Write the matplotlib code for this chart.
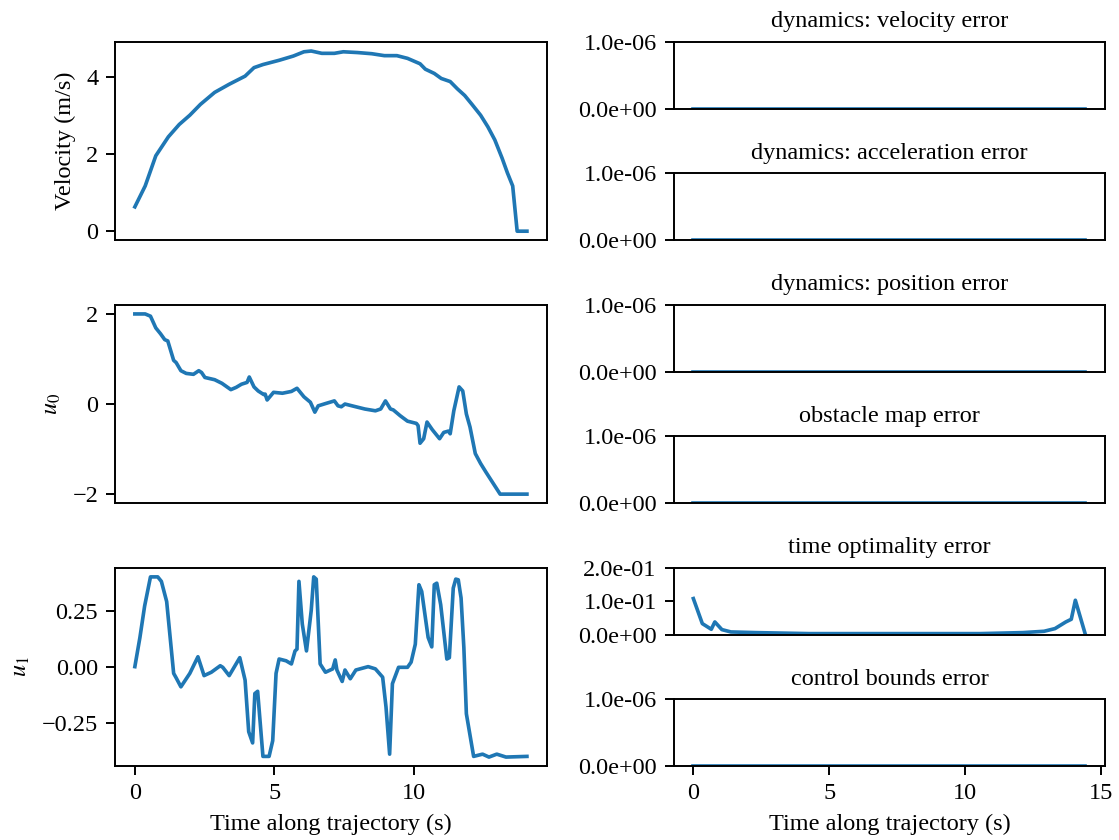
import numpy as np
import matplotlib
matplotlib.use("Agg")
import matplotlib.pyplot as plt
from matplotlib.gridspec import GridSpec
from matplotlib.ticker import FormatStrFormatter

plt.rcParams['font.family'] = ['Liberation Serif', 'DejaVu Serif']
plt.rcParams['mathtext.fontset'] = 'stix'
plt.rcParams['font.size'] = 10
plt.rcParams['axes.titlesize'] = 10

# velocity along the trajectory
t_vel = [0.0, 0.37, 0.75, 1.2, 1.59, 1.97, 2.35, 2.86, 3.38, 3.95, 4.27, 4.59, 5.17, 5.68,
         6.06, 6.32, 6.70, 7.15, 7.47, 7.98, 8.49, 8.94, 9.39, 9.77, 10.22, 10.41, 10.73,
         10.98, 11.30, 11.56, 11.82, 12.07, 12.39, 12.65, 12.90, 13.16, 13.35, 13.54,
         13.70, 14.05]
vel = [0.63, 1.17, 1.95, 2.44, 2.76, 3.0, 3.28, 3.59, 3.80, 4.01, 4.23, 4.31, 4.42, 4.53,
       4.64, 4.66, 4.60, 4.60, 4.64, 4.62, 4.59, 4.54, 4.54, 4.47, 4.33, 4.19, 4.08,
       3.95, 3.87, 3.68, 3.51, 3.29, 3.0, 2.70, 2.36, 1.89, 1.51, 1.17, 0.0, 0.0]

# control u0
t_u0 = [0.0, 0.37, 0.56, 0.75, 0.92, 1.07, 1.18, 1.39, 1.48, 1.65, 1.84, 2.10, 2.29, 2.39,
        2.51, 2.86, 3.12, 3.44, 3.63, 3.82, 4.02, 4.10, 4.27, 4.42, 4.62, 4.67, 4.74, 4.97,
        5.29, 5.61, 5.81, 6.06, 6.29, 6.45, 6.57, 6.83, 7.15, 7.28, 7.40, 7.53, 7.85, 8.24,
        8.62, 8.81, 8.98, 9.16, 9.26, 9.51, 9.77, 10.09, 10.15, 10.22, 10.35, 10.47, 10.66,
        10.92, 11.07, 11.24, 11.30, 11.43, 11.62, 11.75, 11.88, 12.01, 12.20, 12.39, 12.58,
        12.84, 13.09, 14.05]
u0 = [2.0, 2.0, 1.95, 1.69, 1.56, 1.43, 1.40, 0.97, 0.92, 0.74, 0.68, 0.66, 0.74, 0.70,
      0.59, 0.54, 0.46, 0.32, 0.37, 0.44, 0.48, 0.60, 0.38, 0.29, 0.21, 0.22, 0.09, 0.26,
      0.24, 0.28, 0.35, 0.16, 0.04, -0.18, -0.04, 0.01, 0.07, -0.04, -0.06, 0.0, -0.05,
      -0.11, -0.15, -0.11, 0.07, -0.11, -0.13, -0.26, -0.38, -0.43, -0.48, -0.87, -0.77,
      -0.40, -0.57, -0.77, -0.63, -0.60, -0.66, -0.15, 0.38, 0.29, -0.22, -0.51, -1.10,
      -1.32, -1.51, -1.76, -2.0, -2.0]

# control u1
t_u1 = [0.0, 0.18, 0.35, 0.56, 0.82, 0.95, 1.14, 1.39, 1.48, 1.65, 1.97, 2.26, 2.48, 2.74,
        3.06, 3.15, 3.38, 3.76, 3.95, 4.08, 4.22, 4.30, 4.40, 4.59, 4.81, 4.94, 5.06, 5.17,
        5.42, 5.61, 5.74, 5.81, 5.88, 6.0, 6.15, 6.32, 6.41, 6.50, 6.64, 6.83, 7.09, 7.18,
        7.24, 7.43, 7.53, 7.72, 7.92, 8.36, 8.62, 8.88, 9.0, 9.13, 9.23, 9.45, 9.77, 9.90,
        10.05, 10.18, 10.28, 10.51, 10.64, 10.73, 10.82, 10.96, 11.18, 11.27, 11.41, 11.50,
        11.59, 11.69, 11.79, 11.88, 12.14, 12.46, 12.69, 12.97, 13.30, 14.05]
u1 = [0.0, 0.129, 0.27, 0.40, 0.40, 0.38, 0.29, -0.03, -0.05, -0.09, -0.03, 0.044, -0.04,
      -0.025, 0.004, -0.003, -0.04, 0.04, -0.06, -0.29, -0.34, -0.12, -0.11, -0.40, -0.40,
      -0.33, -0.03, 0.034, 0.026, 0.012, 0.07, 0.078, 0.38, 0.19, 0.07, 0.25, 0.40, 0.39,
      0.012, -0.025, -0.01, 0.03, -0.015, -0.066, -0.015, -0.054, -0.015, 0.0, -0.01,
      -0.047, -0.18, -0.39, -0.076, -0.003, -0.003, 0.02, 0.10, 0.365, 0.335, 0.13, 0.088,
      0.365, 0.372, 0.276, 0.034, 0.04, 0.35, 0.39, 0.387, 0.306, 0.085, -0.21, -0.40,
      -0.39, -0.403, -0.39, -0.403, -0.40]

# constraint errors
t_err = [0.0, 0.33, 0.66, 0.79, 1.05, 1.38, 2.29, 4.26, 10.55, 12.12, 12.9, 13.3, 13.7,
         13.9, 14.05, 14.42]
time_opt_err = [0.108, 0.033, 0.016, 0.038, 0.015, 0.008, 0.006, 0.003, 0.003, 0.006,
                0.010, 0.018, 0.038, 0.046, 0.103, 0.0]
zero_err = [0.0] * len(t_err)

err_titles = ['dynamics: velocity error', 'dynamics: acceleration error',
              'dynamics: position error', 'obstacle map error',
              'time optimality error', 'control bounds error']
err_values = [zero_err, zero_err, zero_err, zero_err, time_opt_err, zero_err]

fig = plt.figure(figsize=(1119 / 175, 840 / 175), dpi=175)
gs = GridSpec(6, 2, figure=fig, left=0.103, right=0.9875, top=0.95, bottom=0.088,
              wspace=0.295, hspace=0.97)

ax_v = fig.add_subplot(gs[0:2, 0])
ax_u0 = fig.add_subplot(gs[2:4, 0], sharex=ax_v)
ax_u1 = fig.add_subplot(gs[4:6, 0], sharex=ax_v)

ax_v.plot(t_vel, vel)
ax_v.set_ylabel('Velocity (m/s)')
ax_u0.plot(t_u0, u0)
ax_u0.set_ylabel('$u_0$')
ax_u1.plot(t_u1, u1)
ax_u1.set_ylabel('$u_1$')
ax_u1.set_xlabel('Time along trajectory (s)')
for ax in (ax_v, ax_u0):
    ax.tick_params(bottom=False, labelbottom=False)

first = None
for i, (title, vals) in enumerate(zip(err_titles, err_values)):
    ax = fig.add_subplot(gs[i, 1], sharex=first)
    if first is None:
        first = ax
    ax.plot(t_err, vals)
    ax.set_title(title)
    if title == 'time optimality error':
        ax.set_ylim(0, 0.2)
        ax.set_yticks([0, 0.1, 0.2])
    else:
        ax.set_ylim(0, 1e-6)
        ax.set_yticks([0, 1e-6])
    ax.yaxis.set_major_formatter(FormatStrFormatter('%.1e'))
    if i < 5:
        ax.tick_params(bottom=False, labelbottom=False)
    else:
        ax.set_xlabel('Time along trajectory (s)')

plt.savefig('out.png', dpi=175)
